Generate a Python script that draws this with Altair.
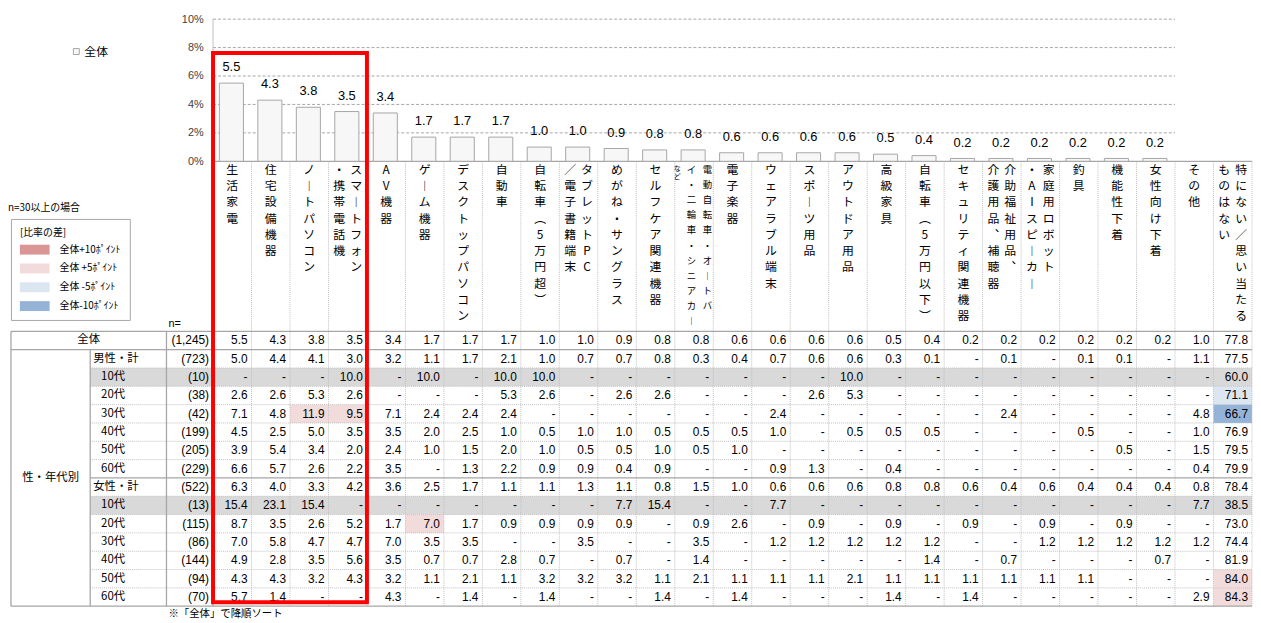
import altair as alt
import pandas as pd

_ = None

# ---------------- data ----------------
ITEMS = [
    "生活家電", "住宅設備機器", "ノートパソコン", "スマートフォン\n・携帯電話機", "AV機器",
    "ゲーム機器", "デスクトップパソコン", "自動車", "自転車（5万円超）", "タブレットPC\n／電子書籍端末",
    "めがね・サングラス", "セルフケア関連機器", "電動自転車・オートバ\nイ・二輪車・シニアカー\nなど",
    "電子楽器", "ウェアラブル端末", "スポーツ用品", "アウトドア用品", "高級家具",
    "自転車（5万円以下）", "セキュリティ関連機器", "介助福祉用品、\n介護用品、補聴器",
    "家庭用ロボット\n・AIスピーカー", "釣具", "機能性下着", "女性向け下着", "その他",
    "特にない／思い当たる\nものはない",
]
NOT_CHARTED = ["その他", "特にない／思い当たる\nものはない"]
TICKS = [0, 2, 4, 6, 8, 10]
RED_BOX_ITEMS = 4

ROW_LABELS = ["全体", "男性・計", "10代", "20代", "30代", "40代", "50代", "60代",
              "女性・計", "10代", "20代", "30代", "40代", "50代", "60代"]
ROW_KIND = ["all", "total", "age", "age", "age", "age", "age", "age",
            "total", "age", "age", "age", "age", "age", "age"]
ROW_N = [1245, 723, 10, 38, 42, 199, 205, 229, 522, 13, 115, 86, 144, 94, 70]
GROUP_LABEL = "性・年代別"
N_MIN = 30
DIFF_CATS = ["全体+10ﾎﾟｲﾝﾄ", "全体 +5ﾎﾟｲﾝﾄ", "全体 -5ﾎﾟｲﾝﾄ", "全体-10ﾎﾟｲﾝﾄ"]
DIFF_COLORS = ["#da9694", "#f2dcdb", "#dce6f1", "#95b3d7"]

V_ALL = [5.5, 4.3, 3.8, 3.5, 3.4, 1.7, 1.7, 1.7, 1.0, 1.0, 0.9, 0.8, 0.8, 0.6, 0.6, 0.6, 0.6, 0.5, 0.4, 0.2, 0.2, 0.2, 0.2, 0.2, 0.2, 1.0, 77.8]
V_M = [5.0, 4.4, 4.1, 3.0, 3.2, 1.1, 1.7, 2.1, 1.0, 0.7, 0.7, 0.8, 0.3, 0.4, 0.7, 0.6, 0.6, 0.3, 0.1, _, 0.1, _, 0.1, 0.1, _, 1.1, 77.5]
V_M10 = [_, _, _, 10.0, _, 10.0, _, 10.0, 10.0, _, _, _, _, _, _, _, 10.0, _, _, _, _, _, _, _, _, _, 60.0]
V_M20 = [2.6, 2.6, 5.3, 2.6, _, _, _, 5.3, 2.6, _, 2.6, 2.6, _, _, _, 2.6, 5.3, _, _, _, _, _, _, _, _, _, 71.1]
V_M30 = [7.1, 4.8, 11.9, 9.5, 7.1, 2.4, 2.4, 2.4, _, _, _, _, _, _, 2.4, _, _, _, _, _, 2.4, _, _, _, _, 4.8, 66.7]
V_M40 = [4.5, 2.5, 5.0, 3.5, 3.5, 2.0, 2.5, 1.0, 0.5, 1.0, 1.0, 0.5, 0.5, 0.5, 1.0, _, 0.5, 0.5, 0.5, _, _, _, 0.5, _, _, 1.0, 76.9]
V_M50 = [3.9, 5.4, 3.4, 2.0, 2.4, 1.0, 1.5, 2.0, 1.0, 0.5, 0.5, 1.0, 0.5, 1.0, _, _, _, _, _, _, _, _, _, 0.5, _, 1.5, 79.5]
V_M60 = [6.6, 5.7, 2.6, 2.2, 3.5, _, 1.3, 2.2, 0.9, 0.9, 0.4, 0.9, _, _, 0.9, 1.3, _, 0.4, _, _, _, _, _, _, _, 0.4, 79.9]
V_F = [6.3, 4.0, 3.3, 4.2, 3.6, 2.5, 1.7, 1.1, 1.1, 1.3, 1.1, 0.8, 1.5, 1.0, 0.6, 0.6, 0.6, 0.8, 0.8, 0.6, 0.4, 0.6, 0.4, 0.4, 0.4, 0.8, 78.4]
V_F10 = [15.4, 23.1, 15.4, _, _, _, _, _, _, _, 7.7, 15.4, _, _, 7.7, _, _, _, _, _, _, _, _, _, _, 7.7, 38.5]
V_F20 = [8.7, 3.5, 2.6, 5.2, 1.7, 7.0, 1.7, 0.9, 0.9, 0.9, 0.9, _, 0.9, 2.6, _, 0.9, _, 0.9, _, 0.9, _, 0.9, _, 0.9, _, _, 73.0]
V_F30 = [7.0, 5.8, 4.7, 4.7, 7.0, 3.5, 3.5, _, _, 3.5, _, _, 3.5, _, 1.2, 1.2, 1.2, 1.2, 1.2, _, _, 1.2, 1.2, 1.2, 1.2, 1.2, 74.4]
V_F40 = [4.9, 2.8, 3.5, 5.6, 3.5, 0.7, 0.7, 2.8, 0.7, _, 0.7, _, 1.4, _, _, _, _, _, 1.4, _, 0.7, _, _, _, 0.7, _, 81.9]
V_F50 = [4.3, 4.3, 3.2, 4.3, 3.2, 1.1, 2.1, 1.1, 3.2, 3.2, 3.2, 1.1, 2.1, 1.1, 1.1, 1.1, 2.1, 1.1, 1.1, 1.1, 1.1, 1.1, 1.1, _, _, _, 84.0]
V_F60 = [5.7, 1.4, _, _, 4.3, _, 1.4, _, 1.4, _, _, 1.4, _, 1.4, _, _, _, 1.4, _, 1.4, _, _, _, _, _, 2.9, 84.3]
ROWS = [V_ALL, V_M, V_M10, V_M20, V_M30, V_M40, V_M50, V_M60,
        V_F, V_F10, V_F20, V_F30, V_F40, V_F50, V_F60]

FOOTNOTE = "※「全体」で降順ソート"
NOTE_N = "n=30以上の場合"

# ---------------- layout (pixels) ----------------
JP = "Noto Sans CJK JP"
NUM = "Liberation Sans"
W, H = 1253, 612
COL_W = 38.85
LEFT_PX, SUB_PX, NCOL_PX = 204.0, 80.0, 157.0
Y0_PX, PCT_PX = 151.8, 14.35
TOP_PX, ROW_PX = 323.5, 18.5
RED_TOP_PX, RED_BOT_PX = 42.5, 597.0
NOTE_Y_PX = 199.0

XMIN = -LEFT_PX / COL_W
XMAX = XMIN + W / COL_W
X_SUB = XMIN + SUB_PX / COL_W
X_N = XMIN + NCOL_PX / COL_W
HDR = (Y0_PX - TOP_PX) / ROW_PX
NROW, NCOL = len(ROWS), len(ITEMS)

XS = alt.Scale(domain=[XMIN, XMAX], nice=False, zero=False)
YA = alt.Scale(domain=[(Y0_PX - H) / PCT_PX, Y0_PX / PCT_PX], nice=False, zero=False)
YB = alt.Scale(domain=[-TOP_PX / ROW_PX, (H - TOP_PX) / ROW_PX], nice=False, zero=False, reverse=True)


def xq(f):
    return alt.X(f"{f}:Q", scale=XS, axis=None)


def ya(f):
    return alt.Y(f"{f}:Q", scale=YA, axis=None)


def yb(f):
    return alt.Y(f"{f}:Q", scale=YB, axis=None)


def fmt(v):
    return "-" if v is None else f"{v:.1f}"


# ---------------- bar chart ----------------
bar_items = [it for it in ITEMS if it not in NOT_CHARTED]
bars = pd.DataFrame({"i": range(len(bar_items)), "v": V_ALL[:len(bar_items)]})
bars["x0"] = bars["i"] + 0.165
bars["x1"] = bars["i"] + 0.79
bars["xc"] = bars["i"] + 0.4775
bars["lab"] = bars["v"].map(fmt)
bars["series"] = "全体"

grid = pd.DataFrame({"y": TICKS[1:], "x0": 0, "x1": len(bar_items)})
axisline = pd.DataFrame({"x": [0], "y0": [min(TICKS)], "y1": [max(TICKS)]})

grid_layer = alt.Chart(grid).mark_rule(color="#a6a6a6", strokeDash=[3, 2], strokeWidth=1).encode(
    x=xq("x0"), x2="x1", y=ya("y"))
axis_layer = alt.Chart(axisline).mark_rule(color="#bfbfbf", strokeWidth=1).encode(
    x=xq("x"), y=ya("y0"), y2="y1")
bar_layer = alt.Chart(bars).mark_rect(stroke="#a6a6a6", strokeWidth=1).encode(
    x=xq("x0"), x2="x1",
    y=alt.Y("v:Q", scale=YA, axis=alt.Axis(
        values=TICKS, labelExpr="datum.value + '%'", domain=False, ticks=False, grid=False,
        offset=-LEFT_PX, orient="left", labelFontSize=11, labelFont=NUM, labelColor="#404040",
        labelPadding=10, title=None)),
    y2=alt.datum(0),
    fill=alt.Fill("series:N", scale=alt.Scale(domain=["全体"], range=["#f7f7f7"]),
                  legend=alt.Legend(title=None, orient="none", legendX=60, legendY=35, padding=0,
                                    symbolType="square", symbolSize=36, symbolStrokeColor="#a6a6a6",
                                    symbolStrokeWidth=1, labelFont=JP, labelFontSize=12,
                                    labelOffset=2, labelColor="#000000")))
bar_text = alt.Chart(bars).mark_text(baseline="bottom", dy=-9, fontSize=13, font=NUM, color="#000000").encode(
    x=xq("xc"), y=ya("v"), text="lab:N")

# ---------------- table ----------------
def classify(d):
    if d >= 10:
        return DIFF_CATS[0]
    if d >= 5:
        return DIFF_CATS[1]
    if d <= -10:
        return DIFF_CATS[3]
    if d <= -5:
        return DIFF_CATS[2]
    return None


cells, hl = [], []
for r, vals in enumerate(ROWS):
    for c, v in enumerate(vals):
        cells.append({"x": c + 1, "y": r + 0.5, "t": fmt(v)})
        if r > 0 and ROW_N[r] >= N_MIN:
            cat = classify((v or 0) - V_ALL[c])
            if cat:
                hl.append({"x0": c, "x1": c + 1, "y0": r, "y1": r + 1, "cat": cat})
cells = pd.DataFrame(cells)
hl = pd.DataFrame(hl)

gray = pd.DataFrame([{"x0": X_SUB, "x1": XMAX, "y0": r, "y1": r + 1}
                     for r in range(NROW) if ROW_N[r] < N_MIN])

h_lines = [(0, XMAX, HDR, "solid"), (XMIN, XMAX, 0, "solid"), (XMIN, XMAX, 1, "solid")]
for r in range(2, NROW):
    h_lines.append((X_SUB, XMAX, r, "solid" if ROW_KIND[r] == "total" else "dot"))
h_lines.append((XMIN, XMAX, NROW, "solid"))
hdf = pd.DataFrame(h_lines, columns=["x0", "x1", "y", "style"])
v_lines = [(XMIN, 0, NROW, "solid"), (X_SUB, 1, NROW, "solid"), (X_N, 0, NROW, "solid"), (0, HDR, NROW, "solid")]
for c in range(1, NCOL + 1):
    v_lines.append((c, HDR, NROW, "dot"))
vdf = pd.DataFrame(v_lines, columns=["x", "y0", "y1", "style"])

gray_layer = alt.Chart(gray).mark_rect(color="#d9d9d9").encode(
    x=xq("x0"), x2="x1", y=yb("y0"), y2="y1")
hl_layer = alt.Chart(hl).mark_rect().encode(
    x=xq("x0"), x2="x1", y=yb("y0"), y2="y1",
    fill=alt.Fill("cat:N", scale=alt.Scale(domain=DIFF_CATS, range=DIFF_COLORS),
                  legend=alt.Legend(title="[比率の差]", orient="none", legendX=0, legendY=210,
                                    padding=9, strokeColor="#a6a6a6",
                                    symbolType="M-1.5,-0.5H1.5V0.5H-1.5Z", symbolSize=400,
                                    symbolStrokeWidth=0, symbolOffset=5, labelOffset=15,
                                    rowPadding=4, titleFont=JP, titleFontSize=10,
                                    titleFontWeight="normal", titleColor="#000000", titlePadding=2,
                                    labelFont=JP, labelFontSize=10, labelColor="#000000")))

h_dot = alt.Chart(hdf[hdf["style"] == "dot"]).mark_rule(color="#bfbfbf", strokeDash=[1, 1], strokeWidth=1).encode(
    x=xq("x0"), x2="x1", y=yb("y"))
v_dot = alt.Chart(vdf[vdf["style"] == "dot"]).mark_rule(color="#bfbfbf", strokeDash=[1, 1], strokeWidth=1).encode(
    x=xq("x"), y=yb("y0"), y2="y1")
h_sol = alt.Chart(hdf[hdf["style"] == "solid"]).mark_rule(color="#a6a6a6", strokeWidth=1.3).encode(
    x=xq("x0"), x2="x1", y=yb("y"))
v_sol = alt.Chart(vdf[vdf["style"] == "solid"]).mark_rule(color="#a6a6a6", strokeWidth=1.3).encode(
    x=xq("x"), y=yb("y0"), y2="y1")

cell_text = alt.Chart(cells).mark_text(align="right", baseline="middle", dx=-4, fontSize=12,
                                       font=NUM, color="#000000").encode(
    x=xq("x"), y=yb("y"), text="t:N")

# row labels
rl = pd.DataFrame({"r": range(NROW), "lab": ROW_LABELS, "kind": ROW_KIND, "n": ROW_N})
rl["y"] = rl["r"] + 0.5
rl["ntext"] = rl["n"].map(lambda n: f"({n:,})")
rl["xc"] = (XMIN + X_N) / 2
rl["xs"] = X_SUB
rl["xn"] = 0.0

all_lab = alt.Chart(rl[rl["kind"] == "all"]).mark_text(align="center", baseline="middle", fontSize=11.5,
                                                        font=JP, color="#000000").encode(
    x=xq("xc"), y=yb("y"), text="lab:N")
tot_lab = alt.Chart(rl[rl["kind"] == "total"]).mark_text(align="left", baseline="middle", dx=3, fontSize=11.5,
                                                          font=JP, color="#000000").encode(
    x=xq("xs"), y=yb("y"), text="lab:N")
age_lab = alt.Chart(rl[rl["kind"] == "age"]).mark_text(align="left", baseline="middle", dx=11, fontSize=11.5,
                                                        font=JP, color="#000000").encode(
    x=xq("xs"), y=yb("y"), text="lab:N")
n_lab = alt.Chart(rl).mark_text(align="right", baseline="middle", dx=-4, fontSize=12,
                                font=NUM, color="#000000").encode(
    x=xq("xn"), y=yb("y"), text="ntext:N")

misc = pd.DataFrame([
    {"x": (XMIN + X_SUB) / 2, "y": (1 + NROW) / 2, "t": GROUP_LABEL, "k": "group"},
    {"x": X_N, "y": 0, "t": "n=", "k": "n"},
    {"x": X_N, "y": NROW, "t": FOOTNOTE, "k": "foot"},
    {"x": XMIN, "y": (NOTE_Y_PX - TOP_PX) / ROW_PX, "t": NOTE_N, "k": "note"},
])
group_lab = alt.Chart(misc[misc["k"] == "group"]).mark_text(align="center", baseline="middle", fontSize=11.5,
                                                             font=JP, color="#000000").encode(
    x=xq("x"), y=yb("y"), text="t:N")
nhead = alt.Chart(misc[misc["k"] == "n"]).mark_text(align="left", baseline="bottom", dx=2, dy=-2, fontSize=11,
                                                     font=NUM, color="#000000").encode(
    x=xq("x"), y=yb("y"), text="t:N")
foot = alt.Chart(misc[misc["k"] == "foot"]).mark_text(align="left", baseline="top", dx=2, dy=3, fontSize=10.5,
                                                       font=JP, color="#000000").encode(
    x=xq("x"), y=yb("y"), text="t:N")
note = alt.Chart(misc[misc["k"] == "note"]).mark_text(align="left", baseline="middle", dx=-3, fontSize=10,
                                                       font=JP, color="#000000").encode(
    x=xq("x"), y=yb("y"), text="t:N")

# header (vertical text)
VERT = str.maketrans({"ー": "︱", "（": "︵", "）": "︶", "、": "︑"})
SUB_OFFSETS_PX = {1: [0.0], 2: [8.5, -8.5], 3: [13.5, -2.5, -17.0]}
hdr = []
for c, name in enumerate(ITEMS):
    subs = name.split("\n")
    k = len(subs)
    for j, s in enumerate(subs):
        tier = "main" if k <= 2 else ("small" if j < 2 else "tiny")
        hdr.append({"x": c + 0.5 + SUB_OFFSETS_PX[k][j] / COL_W, "y": HDR + 0.2,
                    "t": "\n".join(list(s.translate(VERT))), "tier": tier})
hdr = pd.DataFrame(hdr)


def hdr_layer(tier, size, lh):
    return alt.Chart(hdr[hdr["tier"] == tier]).mark_text(
        align="center", baseline="top", lineBreak="\n", lineHeight=lh, fontSize=size,
        font=JP, color="#000000").encode(x=xq("x"), y=yb("y"), text="t:N")


hdr_main = hdr_layer("main", 12, 16.4)
hdr_small = hdr_layer("small", 9.5, 15.3)
hdr_tiny = hdr_layer("tiny", 7, 8)

# red highlight box around the top items
red = pd.DataFrame({"x0": [0], "x1": [RED_BOX_ITEMS],
                    "y0": [(RED_TOP_PX - TOP_PX) / ROW_PX], "y1": [(RED_BOT_PX - TOP_PX) / ROW_PX]})
red_layer = alt.Chart(red).mark_rect(fillOpacity=0, stroke="#ff0000", strokeWidth=4).encode(
    x=xq("x0"), x2="x1", y=yb("y0"), y2="y1")

chart = alt.layer(
    gray_layer, hl_layer, h_dot, v_dot, h_sol, v_sol,
    grid_layer, axis_layer, bar_layer, bar_text,
    hdr_main, hdr_small, hdr_tiny,
    cell_text, all_lab, tot_lab, age_lab, n_lab, group_lab, nhead, foot, note,
    red_layer,
).resolve_scale(y="independent", fill="independent").properties(
    width=W, height=H, padding=0
).configure_view(stroke=None)

chart.save("out.html", embed_options={"renderer": "svg", "actions": False})
